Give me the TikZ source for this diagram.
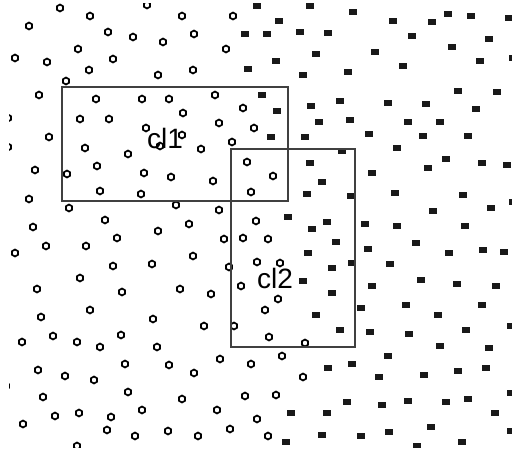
\documentclass[tikz,border=0pt]{standalone}
\usepackage{fontspec}
\setmainfont{Liberation Sans}
\usepackage{tikz}
\usetikzlibrary{shapes.geometric}
\definecolor{boxgray}{RGB}{64,64,64}
\tikzset{
  hexpt/.style={draw, regular polygon, regular polygon sides=6,
    shape border rotate=30, minimum size=7pt, inner sep=0pt,
    line width=1.7pt},
  sqpt/.style={fill=black!90, rectangle, minimum width=8pt,
    minimum height=6pt, inner sep=0pt},
  clbox/.style={draw=boxgray, line width=1.4pt},
  cllabel/.style={anchor=base, font=\fontsize{28}{30}\selectfont},
}

\begin{document}
\begin{tikzpicture}[x=1pt, y=-1pt]
  \useasboundingbox (0,0) rectangle (512,448);
  \begin{scope}
    \clip (9,3) rectangle (512,447);
    % class one: hollow hexagons
    \foreach \p [count=\i] in {(60,8),(90,16),(29,26),(108,32),(133,37),(163,42),
        (78,49),(15,58),(47,62),(113,59),(89,70),(158,75),(66,81),(147,5),(39,95),
        (96,99),(142,99),(169,99),(8,118),(80,119),(109,119),(146,128),(49,137),
        (8,147),(85,148),(160,146),(182,16),(233,16),(194,34),(226,49),(193,70),
        (215,95),(183,113),(243,108),(219,123),(254,128),(182,135),(232,142),
        (201,149),(128,154),(35,170),(97,166),(67,174),(144,173),(171,177),
        (29,199),(100,191),(141,194),(69,208),(105,220),(33,227),(158,231),
        (117,238),(46,246),(86,246),(15,253),(113,266),(152,264),(80,278),
        (37,289),(122,292),(247,162),(273,176),(213,181),(251,192),(176,205),
        (219,210),(189,224),(256,221),(224,239),(243,238),(268,239),(193,256),
        (229,267),(257,262),(280,263),(180,289),(211,294),(241,286),(278,299),
        (90,310),(41,317),(153,319),(53,336),(22,342),(77,342),(100,347),
        (121,335),(157,347),(38,370),(65,376),(94,380),(125,364),(169,365),
        (128,392),(43,397),(55,416),(79,413),(111,417),(142,410),(23,424),
        (107,430),(135,436),(168,431),(77,446),(6,386),(265,310),(204,326),
        (234,326),(269,337),(305,343),(220,359),(251,364),(282,356),(194,373),
        (303,377),(182,399),(245,396),(276,395),(217,410),(257,419),(230,429),
        (198,436),(268,436)}
      \node[hexpt] (h\i) at \p {};
    % class two: filled squares
    \foreach \p [count=\i] in {(257,6),(310,6),(279,21),(245,34),(267,34),(300,32),
        (328,33),(316,54),(276,61),(248,69),(303,75),(262,95),(277,111),(311,106),
        (340,101),(319,122),(271,137),(305,137),(353,12),(393,21),(432,22),
        (448,14),(471,16),(509,18),(412,36),(489,39),(452,47),(375,52),(403,66),
        (480,61),(513,58),(348,72),(458,91),(497,92),(388,103),(426,104),
        (476,109),(350,120),(408,122),(440,122),(369,134),(423,136),(468,136),
        (397,148),(342,151),(310,163),(322,182),(307,194),(288,217),(312,229),
        (327,222),(336,242),(308,253),(332,268),(303,281),(332,293),(372,173),
        (428,168),(446,159),(482,163),(507,165),(351,196),(395,193),(463,195),
        (433,211),(491,208),(513,202),(365,224),(397,226),(465,226),(416,243),
        (368,249),(449,253),(483,250),(504,252),(352,263),(390,264),(421,280),
        (372,286),(457,284),(496,286),(316,315),(340,330),(328,368),(291,413),
        (327,413),(322,435),(286,442),(361,308),(406,305),(438,315),(482,305),
        (370,332),(409,334),(466,330),(511,326),(440,346),(489,348),(388,356),
        (352,364),(379,377),(424,375),(458,371),(486,368),(347,402),(382,405),
        (408,401),(446,402),(468,399),(511,393),(495,413),(361,436),(389,432),
        (431,427),(511,431),(417,446),(462,442)}
      \node[sqpt] (s\i) at \p {};
  \end{scope}

  % the two clusters
  \draw[clbox] (62,87) rectangle (288,201);
  \draw[clbox] (231,149) rectangle (355,347);
  \node[cllabel] (cl1) at (165,148) {cl1};
  \node[cllabel] (cl2) at (275,288) {cl2};
\end{tikzpicture}
\end{document}
